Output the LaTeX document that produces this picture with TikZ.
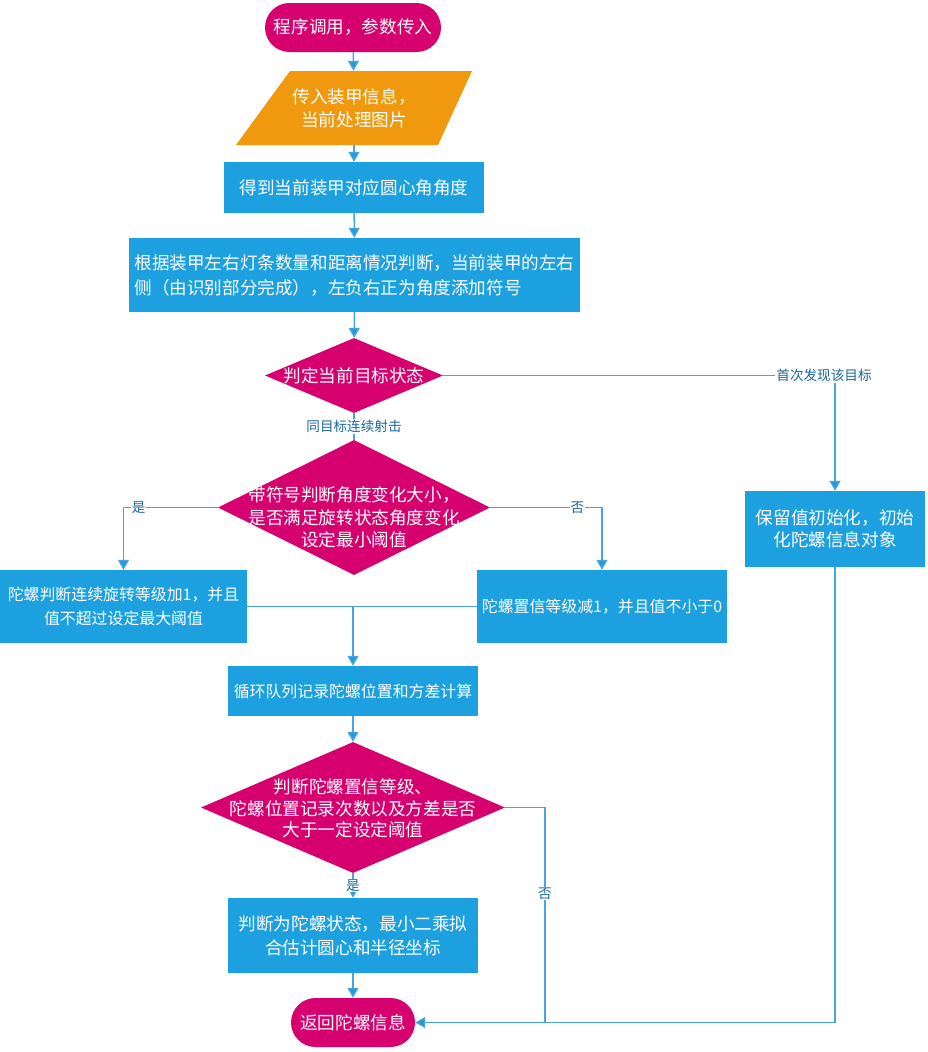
\documentclass[tikz,border=0pt]{standalone}
\usepackage{fontspec}
\setmainfont{Noto Sans CJK SC}
\usetikzlibrary{shapes.geometric,arrows.meta,calc}
\definecolor{termc}{RGB}{215,0,111}
\definecolor{ioc}{RGB}{240,152,14}
\definecolor{procc}{RGB}{29,160,224}
\definecolor{linec}{RGB}{72,164,220}
\definecolor{tipc}{RGB}{30,155,219}
\definecolor{labc}{RGB}{26,104,156}
\begin{document}
\begin{tikzpicture}[x=1pt,y=-1pt,
  font=\fontsize{17.6}{23.5}\selectfont,
  smalltext/.style={font=\fontsize{15.9}{23.5}\selectfont},
  terminal/.style={fill=termc,text=white,rounded corners=24.5pt,inner sep=0pt,minimum height=49pt},
  procbox/.style={fill=procc,text=white,inner sep=0pt,align=center},
  decision/.style={diamond,fill=termc,inner sep=0pt},
  dtext/.style={text=white,align=center,inner sep=0pt},
  flow/.style={draw=linec,line width=1.4pt},
  arrow/.style={flow,-{Triangle[length=10pt,width=11pt,fill=tipc]}},
  edgelabel/.style={fill=white,text=labc,inner sep=1pt,font=\fontsize{13.6}{16}\selectfont}]
\useasboundingbox (0,0) rectangle (928,1052);

% start terminal
\node[terminal,minimum width=176pt] (start) at (353,27.5) {程序调用，参数传入};

% input parallelogram
\coordinate (pc) at (354,108);
\fill[ioc] ($(pc)+(-64,-37)$) -- ($(pc)+(118,-37)$) -- ($(pc)+(84,37)$) -- ($(pc)+(-118,37)$) -- cycle;
\node[text=white,align=center,minimum width=236pt,minimum height=74pt,inner sep=0pt] (par) at (pc) {传入装甲信息，\\当前处理图片};

% processing steps
\node[procbox,minimum width=260pt,minimum height=51pt] (b1) at (354,187.5) {得到当前装甲对应圆心角角度};
\node[procbox,align=left,minimum width=451pt,minimum height=74pt,font=\fontsize{17.6}{25}\selectfont] (b2) at (354.5,275)
  {根据装甲左右灯条数量和距离情况判断，当前装甲的左右\\侧（由识别部分完成），左负右正为角度添加符号};

\node[decision,minimum width=178pt,minimum height=75pt] (d1) at (354,375.5) {};
\node[dtext] (d1t) at (d1.center) {判定当前目标状态};

\node[decision,minimum width=272pt,minimum height=135pt] (d2) at (354,507.5) {};
\node[dtext,font=\fontsize{17.6}{22.5}\selectfont] (d2t) at ([yshift=-10pt]d2.center) {带符号判断角度变化大小，\\是否满足旋转状态角度变化\\设定最小阈值};

\node[procbox,smalltext,minimum width=247pt,minimum height=73pt] (bl) at (123.5,606.5) {陀螺判断连续旋转等级加1，并且\\值不超过设定最大阈值};
\node[procbox,smalltext,minimum width=250pt,minimum height=73pt] (bm) at (602,606.5) {陀螺置信等级减1，并且值不小于0};
\node[procbox,minimum width=180pt,minimum height=76pt,font=\fontsize{17.6}{22}\selectfont] (r) at (835,529) {保留值初始化，初始\\化陀螺信息对象};

\node[procbox,smalltext,minimum width=250pt,minimum height=50pt] (b3) at (353,691) {循环队列记录陀螺位置和方差计算};

\node[decision,minimum width=304pt,minimum height=131pt] (d3) at (353,807.5) {};
\node[dtext,font=\fontsize{17.6}{21.5}\selectfont] (d3t) at ([yshift=-1pt]d3.center) {判断陀螺置信等级、\\陀螺位置记录次数以及方差是否\\大于一定设定阈值};

\node[procbox,minimum width=250pt,minimum height=75pt,font=\fontsize{17.6}{24}\selectfont] (b4) at (353,935.5) {判断为陀螺状态，最小二乘拟\\合估计圆心和半径坐标};

% end terminal
\node[terminal,minimum width=124pt] (end) at (353,1022.5) {返回陀螺信息};

% junction points
\coordinate (j1) at (353,606.5);
\coordinate (j2) at (545,1022.5);

% connectors
\draw[arrow] (start) -- (par);
\draw[arrow] (par) -- (b1);
\draw[arrow] (b1) -- (b2);
\draw[arrow] (b2) -- (d1);
\draw[arrow] (d1.east) -| node[edgelabel,pos=0.5,xshift=-11pt] {首次发现该目标} (r.north);
\draw[flow] (d1.south) -- node[edgelabel] {同目标连续射击} (d2.north);
\draw[arrow] (d2.west) -| node[edgelabel,pos=0.42] {是} (bl.north);
\draw[arrow] (d2.east) -| node[edgelabel,pos=0.39] {否} (bm.north);
\draw[flow] (bl.east) -- (j1);
\draw[flow] (bm.west) -- (j1);
\draw[arrow] (j1) -- (b3);
\draw[arrow] (b3) -- (d3);
\draw[arrow] (d3.south) -- node[edgelabel] {是} (b4.north);
\draw[arrow] (b4) -- (end);
\draw[flow] (d3.east) -| node[edgelabel,pos=0.7] {否} (j2);
\draw[arrow] (r.south) |- (end.east);
\end{tikzpicture}
\end{document}
